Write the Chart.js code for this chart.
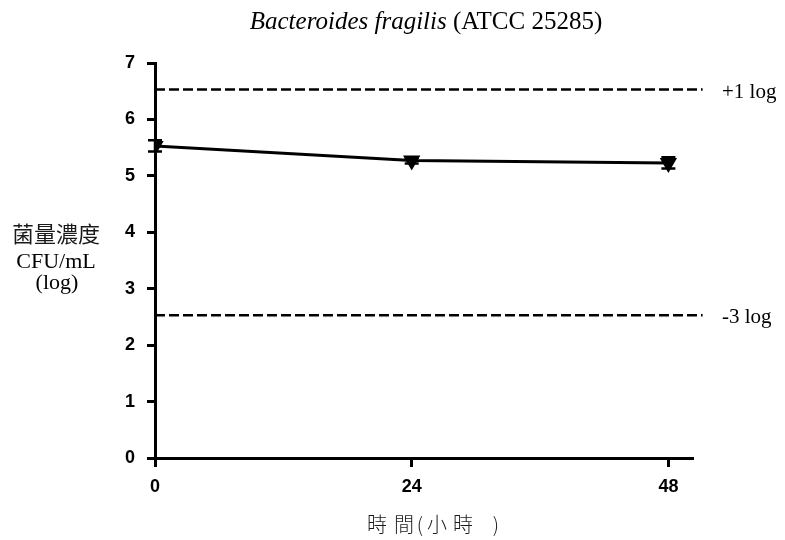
<!DOCTYPE html>
<html>
<head>
<meta charset="utf-8">
<script src="https://cdn.jsdelivr.net/npm/chart.js@4/dist/chart.umd.min.js"></script>
<style>
  html, body { margin: 0; padding: 0; background: #fff; }
  #wrap { width: 785px; height: 540px; position: relative; }
</style>
</head>
<body>
<div id="wrap"><canvas id="c" width="785" height="540"></canvas></div>
<script>
// Sampling times (hours)
const hours = [0, 24, 48];
// Mean bacterial concentration, log CFU/mL
const meanLog = [5.53, 5.27, 5.23];
// Standard deviation of each mean
const sdLog = [0.10, 0.05, 0.10];
// Reference limits
const limitValues = [6.53, 2.53];
const limitLabels = ['+1 log', '-3 log'];
const yTicks = [0, 1, 2, 3, 4, 5, 6, 7];

const titleItalic = 'Bacteroides fragilis';
const titleRest = ' (ATCC 25285)';
const yTitleLines = ['菌量濃度', 'CFU/mL', '(log)'];
// x-axis title pieces, spaced out like the printed label
const xTitleParts = [['時', 377], ['間', 404], ['(', 420], ['小', 437], ['時', 463], [')', 496]];

const serif = '"Liberation Serif", "Times New Roman", serif';
const cjk = '"Noto Sans CJK TC", "Noto Sans CJK SC", sans-serif';

const annotations = {
  id: 'annotations',
  beforeDatasetsDraw(chart) {
    const { ctx, scales: { x, y } } = chart;
    ctx.save();
    // dashed limit lines
    ctx.strokeStyle = '#000';
    ctx.lineWidth = 2.5;
    ctx.setLineDash([10, 4]);
    limitValues.forEach(v => {
      const py = y.getPixelForValue(v);
      ctx.beginPath();
      ctx.moveTo(x.getPixelForValue(0), py);
      ctx.lineTo(x.getPixelForValue(51.2), py);
      ctx.stroke();
    });
    ctx.setLineDash([]);
    // limit labels
    ctx.fillStyle = '#000';
    ctx.font = '21px ' + serif;
    ctx.textAlign = 'left';
    ctx.textBaseline = 'alphabetic';
    limitValues.forEach((v, i) => {
      ctx.fillText(limitLabels[i], 722, y.getPixelForValue(v) + 8);
    });
    // error bars
    ctx.lineWidth = 2.5;
    hours.forEach((h, i) => {
      const px = x.getPixelForValue(h);
      const top = y.getPixelForValue(meanLog[i] + sdLog[i]);
      const bot = y.getPixelForValue(meanLog[i] - sdLog[i]);
      ctx.beginPath();
      ctx.moveTo(px, top); ctx.lineTo(px, bot);
      ctx.moveTo(px - 7, top); ctx.lineTo(px + 7, top);
      ctx.moveTo(px - 7, bot); ctx.lineTo(px + 7, bot);
      ctx.stroke();
    });
    ctx.restore();
  },
  afterDraw(chart) {
    const { ctx } = chart;
    ctx.save();
    ctx.fillStyle = '#000';
    ctx.textBaseline = 'alphabetic';
    // title with italic species name
    ctx.font = 'italic 25px ' + serif;
    const w1 = ctx.measureText(titleItalic).width;
    ctx.font = '25px ' + serif;
    const w2 = ctx.measureText(titleRest).width;
    const sx = 426 - (w1 + w2) / 2;
    ctx.textAlign = 'left';
    ctx.font = 'italic 25px ' + serif;
    ctx.fillText(titleItalic, sx, 29);
    ctx.font = '25px ' + serif;
    ctx.fillText(titleRest, sx + w1, 29);
    // y-axis title, horizontal
    ctx.textAlign = 'center';
    ctx.fillStyle = '#1a1a1a';
    ctx.font = '22px ' + cjk;
    ctx.fillText(yTitleLines[0], 56, 242);
    ctx.fillStyle = '#000';
    ctx.font = '22px ' + serif;
    ctx.fillText(yTitleLines[1], 56, 268);
    ctx.fillText(yTitleLines[2], 57, 289);
    // x-axis title
    ctx.font = '300 20px ' + cjk;
    ctx.fillStyle = '#1a1a1a';
    xTitleParts.forEach(([t, cx]) => ctx.fillText(t, cx, 532));
    ctx.restore();
  }
};

new Chart(document.getElementById('c'), {
  type: 'scatter',
  data: {
    datasets: [{
      data: hours.map((h, i) => ({ x: h, y: meanLog[i] })),
      showLine: true,
      borderColor: '#000',
      backgroundColor: '#000',
      borderWidth: 3,
      pointStyle: 'triangle',
      rotation: 180,
      pointRadius: 7,
      tension: 0
    }]
  },
  options: {
    responsive: false,
    animation: false,
    devicePixelRatio: 1,
    layout: { padding: { top: 63, right: 92, left: 0, bottom: 0 } },
    plugins: { legend: { display: false }, tooltip: { enabled: false } },
    scales: {
      x: {
        type: 'linear',
        min: 0,
        max: 50.3,
        afterBuildTicks(scale) { scale.ticks = hours.map(v => ({ value: v })); },
        afterFit(scale) { scale.height = 82; },
        border: { display: true, color: '#000', width: 3 },
        grid: { drawOnChartArea: false, drawTicks: true, tickLength: 9, tickWidth: 3, tickColor: '#000' },
        ticks: {
          padding: 9,
          color: '#000',
          font: { family: '"Liberation Sans", Arial, sans-serif', size: 18, weight: 'bold' }
        }
      },
      y: {
        min: 0,
        max: 7,
        afterBuildTicks(scale) { scale.ticks = yTicks.map(v => ({ value: v })); },
        afterFit(scale) { scale.width = 155; },
        border: { display: true, color: '#000', width: 3 },
        grid: { drawOnChartArea: false, drawTicks: true, tickLength: 8, tickWidth: 3, tickColor: '#000' },
        ticks: {
          padding: 12,
          color: '#000',
          font: { family: '"Liberation Sans", Arial, sans-serif', size: 18, weight: 'bold' }
        }
      }
    }
  },
  plugins: [annotations]
});
</script>
</body>
</html>
